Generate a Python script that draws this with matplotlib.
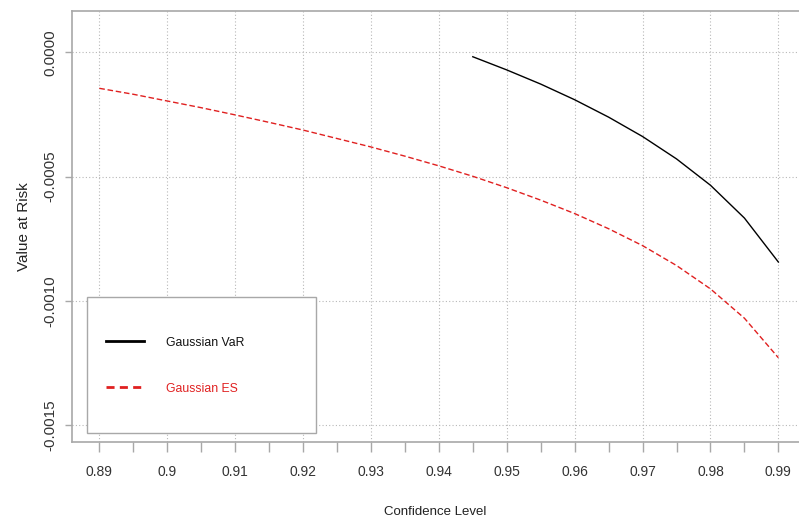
import numpy as np
import matplotlib
matplotlib.use("Agg")
import matplotlib.pyplot as plt
from matplotlib.patches import Rectangle
from matplotlib.ticker import FixedLocator, FixedFormatter

# confidence levels and values
conf_var = [0.945, 0.95, 0.955, 0.96, 0.965, 0.97, 0.975, 0.98, 0.985, 0.99]
gauss_var = [-0.000018, -0.000071, -0.000128, -0.000191, -0.000261,
             -0.000339, -0.000429, -0.000535, -0.000667, -0.000844]

conf_es = [0.89, 0.895, 0.90, 0.905, 0.91, 0.915, 0.92, 0.925, 0.93, 0.935,
           0.94, 0.945, 0.95, 0.955, 0.96, 0.965, 0.97, 0.975, 0.98, 0.985, 0.99]
gauss_es = [-0.000145, -0.000169, -0.000196, -0.000223, -0.000252, -0.000282,
            -0.000313, -0.000347, -0.000381, -0.000418, -0.000457, -0.000499,
            -0.000545, -0.000595, -0.000649, -0.000710, -0.000778, -0.000858,
            -0.000952, -0.001070, -0.001229]

xticks = [0.89, 0.90, 0.91, 0.92, 0.93, 0.94, 0.95, 0.96, 0.97, 0.98, 0.99]
xlabels = ["0.89", "0.9", "0.91", "0.92", "0.93", "0.94", "0.95", "0.96", "0.97", "0.98", "0.99"]
xminor = [0.895, 0.905, 0.915, 0.925, 0.935, 0.945, 0.955, 0.965, 0.975, 0.985]
yticks = [0.0, -0.0005, -0.0010, -0.0015]
ylabels = ["0.0000", "-0.0005", "-0.0010", "-0.0015"]

fonts = ["Liberation Sans", "DejaVu Sans"]
axcol = "#a8a8a8"
red = "#e02020"

fig = plt.figure(figsize=(7.99, 5.17), dpi=100)
ax = fig.add_axes([0.0905, 0.1456, 1 - 0.0905, 0.8331])

ax.plot(conf_var, gauss_var, color="black", lw=1.0, label="Gaussian VaR")
ax.plot(conf_es, gauss_es, color=red, lw=1.0, ls=(0, (4, 2)), label="Gaussian ES")

ax.set_xlim(0.88602, 0.99304)
ax.set_ylim(-0.001567, 0.000166)

ax.xaxis.set_major_locator(FixedLocator(xticks))
ax.xaxis.set_major_formatter(FixedFormatter(xlabels))
ax.xaxis.set_minor_locator(FixedLocator(xminor))
ax.yaxis.set_major_locator(FixedLocator(yticks))
ax.yaxis.set_major_formatter(FixedFormatter(ylabels))

ax.tick_params(axis="x", which="both", direction="out", length=7, width=1,
               color=axcol, pad=10, labelsize=10, labelcolor="#333333")
ax.tick_params(axis="y", which="both", direction="out", length=5, width=1,
               color=axcol, pad=6, labelsize=11, labelcolor="#333333")
for t in ax.get_xticklabels() + ax.get_yticklabels():
    t.set_family(fonts)
for t in ax.get_yticklabels():
    t.set_rotation(90)
    t.set_va("center")

for s in ["left", "bottom", "top"]:
    ax.spines[s].set_color(axcol)
    ax.spines[s].set_linewidth(1.2)
ax.spines["right"].set_visible(False)

ax.grid(True, which="major", color="#b8b8b8", lw=0.8, ls=(0, (1, 2)))

ax.set_xlabel("Confidence Level", family=fonts, fontsize=9.5, color="#222222", labelpad=19)
ax.set_ylabel("Value at Risk", family=fonts, fontsize=11, color="#222222", labelpad=9)

# legend frame drawn separately so the padding can differ per side
frame = Rectangle((87.3 / 799, 1 - 432.7 / 517), (316 - 87.3) / 799,
                  (432.7 - 297.3) / 517, transform=fig.transFigure,
                  facecolor="white", edgecolor=axcol, lw=1.0, zorder=4, clip_on=False)
ax.add_patch(frame)
leg = ax.legend(loc="upper left", bbox_to_anchor=(106 / 799, 1 - 336.5 / 517),
                bbox_transform=fig.transFigure, frameon=False, borderpad=0,
                labelspacing=2.8, handlelength=3.1, handletextpad=1.8, borderaxespad=0,
                prop={"family": fonts, "size": 8.8})
leg.set_zorder(6)
leg.get_texts()[0].set_color("#111111")
leg.get_texts()[1].set_color(red)
for line in leg.get_lines():
    line.set_linewidth(2)
leg.get_lines()[1].set_linestyle((0, (2.9, 1.9)))

fig.savefig("out.png", dpi=100)
